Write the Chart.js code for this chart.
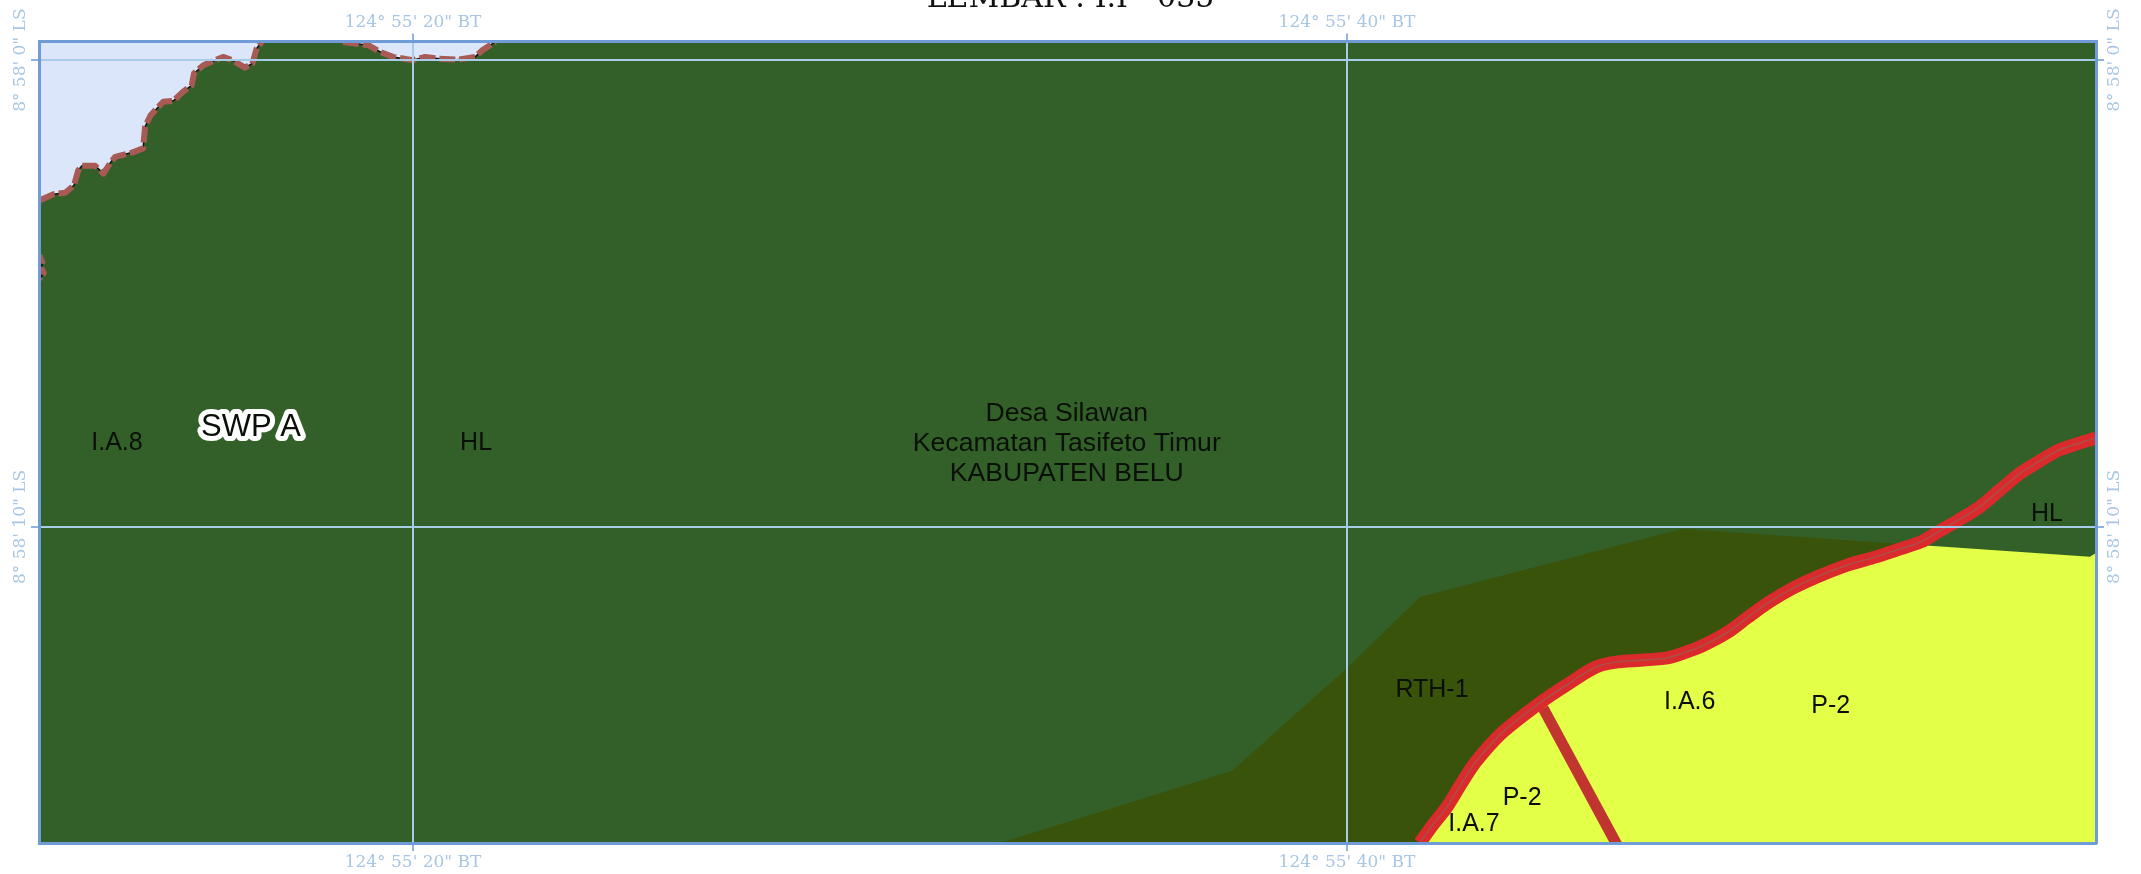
<!DOCTYPE html>
<html lang="id">
<head>
<meta charset="utf-8" />
<title>Lembar I.I - 035</title>
<script src="https://cdn.jsdelivr.net/npm/chart.js@4.4.1/dist/chart.umd.min.js"></script>
<style>
  html,body{margin:0;padding:0;background:#fff;overflow:hidden;}
  canvas{display:block;}
</style>
</head>
<body>
<canvas id="map" width="2141" height="874"></canvas>
<script>
// Everything is in arc seconds: lon after 124 deg 55', lat after 8 deg 58' south.
const lonMin = 11.99, lonMax = 56.04, latMin = -0.4, latMax = 16.77;

const lonTicks = [20, 40];
const lonLabels = ['124° 55\' 20" BT', '124° 55\' 40" BT'];
const latTicks = [0, 10];
const latLabels = ['8° 58\' 0" LS', '8° 58\' 10" LS'];

const coastWestLon = [12.01, 12.30, 12.55, 12.74, 12.83, 12.91, 13.19, 13.37, 13.51, 13.62, 13.98, 14.22, 14.26, 14.38, 14.65, 14.87, 15.07, 15.26, 15.31, 15.51, 15.93, 16.15, 16.40, 16.56, 16.65, 16.76];
const coastWestLat = [3.00, 2.87, 2.84, 2.68, 2.36, 2.26, 2.26, 2.43, 2.21, 2.07, 1.98, 1.89, 1.43, 1.18, 0.89, 0.87, 0.68, 0.54, 0.28, 0.11, -0.07, 0.01, 0.16, 0.07, -0.25, -0.39];
const coastEastLon = [18.50, 19.04, 19.29, 19.57, 19.99, 20.26, 20.56, 20.94, 21.33, 21.48, 21.76];
const coastEastLat = [-0.39, -0.32, -0.18, -0.07, 0, -0.07, -0.03, -0.01, -0.07, -0.21, -0.39];
const notchLon = [12.0, 12.06, 12.04, 12.09, 12.0];
const notchLat = [4.18, 4.33, 4.45, 4.56, 4.69];

const forestEndLon = [56.04, 56.04, 11.99];
const forestEndLat = [-0.4, 16.77, 16.77];

const rthLon = [32.57, 37.54, 40.00, 41.56, 47.19, 52.48, 47.56];
const rthLat = [16.77, 15.22, 13.02, 11.50, 10.04, 10.41, 16.77];

const roadLon = [41.56, 41.84, 42.14, 42.46, 42.76, 43.32, 44.13, 44.71, 45.33, 45.80, 46.83, 47.26, 47.64, 48.16, 48.59, 49.04, 49.55, 50.06, 50.73, 51.33, 51.78, 52.29, 52.65, 53.10, 53.55, 53.98, 54.43, 54.80, 55.25, 55.70, 56.04];
const roadLat = [16.77, 16.38, 16.00, 15.48, 15.03, 14.41, 13.77, 13.38, 13.00, 12.89, 12.81, 12.68, 12.53, 12.25, 11.93, 11.61, 11.31, 11.07, 10.81, 10.64, 10.49, 10.32, 10.11, 9.85, 9.57, 9.21, 8.84, 8.61, 8.35, 8.20, 8.09];
const branchLon = [44.20, 45.83];
const branchLat = [13.88, 16.9];

// yellow P-2 follows the road up to the forest edge, then runs to the frame
const farmEndLon = [52.33, 55.91, 56.04, 56.04];
const farmEndLat = [10.39, 10.64, 10.56, 16.77];

const placeTexts = ['I.A.8', 'HL', 'RTH-1', 'P-2', 'I.A.7', 'I.A.6', 'P-2', 'HL'];
const placeLon = [13.66, 21.35, 41.82, 43.75, 42.72, 47.34, 50.36, 54.99];
const placeLat = [8.21, 8.21, 13.50, 15.81, 16.37, 13.76, 13.84, 9.73];

const adminTexts = ['Desa Silawan', 'Kecamatan Tasifeto Timur', 'KABUPATEN BELU'];
const adminLon = [34.00, 34.00, 34.00];
const adminLat = [7.57, 8.21, 8.85];

const pts = (lon, lat) => lon.map((x, i) => ({ x, y: lat[i] }));

const SANS = '"Liberation Sans", Arial, sans-serif';
const SERIF = '"DejaVu Serif", serif';
const TICK = '#a9c6e3';
const GRID = '#a8cbe8';
const FRAME = '#6f9bd6';

function area(data, color) {
  return { data, showLine: true, fill: 'shape', backgroundColor: color, borderWidth: 0, pointRadius: 0 };
}
function line(data, color, width, dash, tension) {
  return { data, showLine: true, fill: false, borderColor: color, borderWidth: width, borderDash: dash || [], tension: tension || 0, pointRadius: 0, borderCapStyle: 'butt', borderJoinStyle: 'round' };
}

const layers = [
  area(pts([lonMin, lonMax, lonMax, lonMin], [latMin, latMin, latMax, latMax]), '#dce6fb'),
  area(pts([...coastWestLon, ...coastEastLon, ...forestEndLon], [...coastWestLat, ...coastEastLat, ...forestEndLat]), '#336029'),
  area(pts(rthLon, rthLat), '#39530b'),
  area(pts([...roadLon.slice(0, 22), ...farmEndLon], [...roadLat.slice(0, 22), ...farmEndLat]), '#e4ff47'),
  line(pts(coastWestLon, coastWestLat), '#111', 1.5),
  line(pts(coastEastLon, coastEastLat), '#111', 1.5),
  line(pts(notchLon, notchLat), '#111', 1.5),
  line(pts(coastWestLon, coastWestLat), '#a85a55', 6, [16, 4]),
  line(pts(coastEastLon, coastEastLat), '#a85a55', 6, [16, 4]),
  line(pts(notchLon, notchLat), '#a85a55', 6, [9, 3]),
  line(pts(branchLon, branchLat), '#c0352f', 11),
  line(pts(roadLon, roadLat), '#da2a2c', 13, null, 0.3),
  line(pts(roadLon, roadLat), '#a9504a', 1.5, null, 0.3),
];
// first dataset sits on top in Chart.js, so count the order down
layers.forEach((d, i) => { d.order = layers.length - i; });

// place names and the SWP A stamp, positioned through the scales
const mapText = {
  id: 'mapText',
  afterDatasetsDraw(chart) {
    const { ctx, scales: { x, y } } = chart;
    ctx.save();
    ctx.textAlign = 'center';
    ctx.textBaseline = 'middle';
    ctx.fillStyle = '#0a0f08';
    ctx.font = '25px ' + SANS;
    placeTexts.forEach((t, i) => ctx.fillText(t, x.getPixelForValue(placeLon[i]), y.getPixelForValue(placeLat[i])));
    ctx.font = '26.6px ' + SANS;
    adminTexts.forEach((t, i) => ctx.fillText(t, x.getPixelForValue(adminLon[i]), y.getPixelForValue(adminLat[i])));
    const sx = x.getPixelForValue(16.53), sy = y.getPixelForValue(7.86);
    ctx.font = '31px ' + SANS;
    ctx.lineJoin = 'round';
    ctx.lineWidth = 10;
    ctx.strokeStyle = '#fff';
    ctx.strokeText('SWP A', sx, sy);
    ctx.fillText('SWP A', sx, sy);
    ctx.restore();
  },
};

const lonTick = (v) => lonLabels[lonTicks.indexOf(v)];
const latTick = (v) => latLabels[latTicks.indexOf(v)];

function lonAxis(position, size, onMap) {
  return {
    type: 'linear', position, min: lonMin, max: lonMax,
    afterBuildTicks: (s) => { s.ticks = lonTicks.map((value) => ({ value })); },
    afterFit: (s) => { s.height = size; },
    grid: { color: GRID, tickColor: '#8fb4de', lineWidth: 2, tickLength: 8, drawOnChartArea: onMap, z: 1 },
    border: { color: FRAME, width: 3, z: 2 },
    ticks: { callback: lonTick, color: TICK, font: { family: SERIF, size: 17 }, padding: 1, maxRotation: 0, autoSkip: false },
  };
}
function latAxis(position, size, onMap, pad) {
  return {
    type: 'linear', position, reverse: true, min: latMin, max: latMax,
    afterBuildTicks: (s) => { s.ticks = latTicks.map((value) => ({ value })); },
    afterFit: (s) => { s.width = size; },
    grid: { color: GRID, tickColor: '#8fb4de', lineWidth: 2, tickLength: 8, drawOnChartArea: onMap, z: 1 },
    border: { color: FRAME, width: 3, z: 2 },
    // rotated labels: crossAlign centre shifts by half the text length, negative padding takes it back
    ticks: { callback: latTick, color: TICK, font: { family: SERIF, size: 17 }, minRotation: 90, maxRotation: 90, crossAlign: 'center', padding: pad, autoSkip: false },
  };
}

new Chart(document.getElementById('map'), {
  type: 'scatter',
  data: { datasets: layers },
  plugins: [mapText],
  options: {
    responsive: false,
    animation: false,
    devicePixelRatio: 1,
    layout: { padding: 0 },
    plugins: {
      legend: { display: false },
      tooltip: { enabled: false },
      // hangs off the top of the page like the cut sheet title in the source
      title: {
        display: true, text: 'LEMBAR : I.I - 035', color: '#111',
        font: { family: SERIF, size: 30, weight: 'normal', lineHeight: 1 },
        padding: { top: -16, bottom: -14 },
      },
    },
    scales: {
      x: lonAxis('top', 41.5, true),
      x2: lonAxis('bottom', 31, false),
      y: latAxis('left', 39, true, -47),
      y2: latAxis('right', 45, false, -47),
    },
  },
});
</script>
</body>
</html>
